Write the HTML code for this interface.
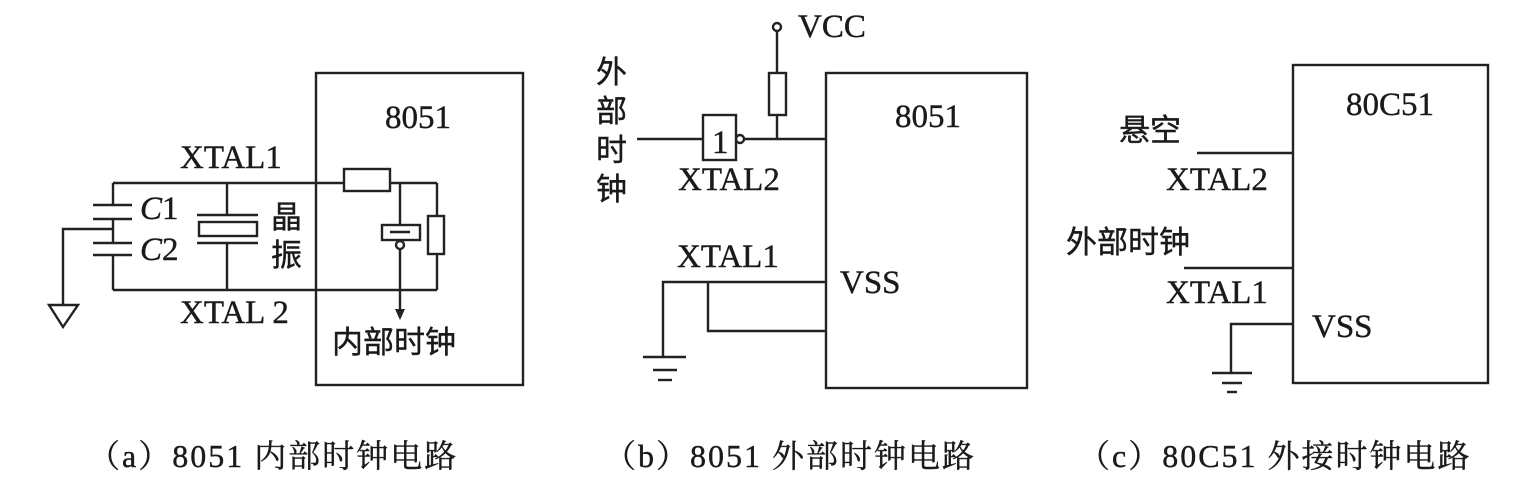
<!DOCTYPE html>
<html><head><meta charset="utf-8"><style>
html,body{margin:0;padding:0;background:#fff;}
svg{display:block}
text{fill:#1a1a1a;stroke:#1a1a1a;stroke-width:0.4}
.s{font-family:"Liberation Serif","Noto Serif CJK SC",serif;font-size:33px}
.c{font-family:"Liberation Sans","Noto Sans CJK SC",sans-serif;font-size:31px}
.cap{font-family:"Liberation Serif","Noto Serif CJK SC",serif;font-size:32px}
</style></head><body>
<svg width="1536" height="491" viewBox="0 0 1536 491" xmlns="http://www.w3.org/2000/svg">
<g stroke="#222" stroke-width="2.4" fill="none">
<rect x="316" y="73" width="207" height="312"/>
<line x1="113" y1="183" x2="344" y2="183"/>
<rect x="344" y="169" width="46" height="22"/>
<line x1="390" y1="183" x2="437" y2="183"/>
<line x1="113" y1="290" x2="437" y2="290"/>
<line x1="113" y1="183" x2="113" y2="205"/>
<line x1="93" y1="205" x2="132" y2="205"/>
<line x1="93" y1="219" x2="132" y2="219"/>
<line x1="113" y1="219" x2="113" y2="243"/>
<line x1="93" y1="243" x2="132" y2="243"/>
<line x1="93" y1="255" x2="132" y2="255"/>
<line x1="113" y1="255" x2="113" y2="290"/>
<polyline points="113,229 63,229 63,305"/>
<polygon points="49,305 78,305 63,327"/>
<line x1="227" y1="183" x2="227" y2="215"/>
<line x1="197" y1="215" x2="258" y2="215"/>
<rect x="199" y="222" width="58" height="14"/>
<line x1="197" y1="243" x2="258" y2="243"/>
<line x1="227" y1="243" x2="227" y2="290"/>
<line x1="400" y1="183" x2="400" y2="225"/>
<rect x="382" y="225" width="38" height="15"/>
<line x1="390" y1="232" x2="410" y2="232"/>
<circle cx="400" cy="245" r="4"/>
<line x1="400" y1="249" x2="400" y2="312"/>
<line x1="437" y1="183" x2="437" y2="216"/>
<rect x="428" y="216" width="16" height="38"/>
<line x1="437" y1="254" x2="437" y2="290"/>
<rect x="826" y="73" width="201" height="315"/>
<circle cx="777" cy="27" r="4"/>
<line x1="777" y1="31" x2="777" y2="73"/>
<rect x="769" y="73" width="17" height="42"/>
<line x1="777" y1="115" x2="777" y2="139"/>
<line x1="637" y1="139" x2="703" y2="139"/>
<rect x="703" y="115" width="33" height="45"/>
<circle cx="740" cy="139" r="4"/>
<line x1="744" y1="139" x2="826" y2="139"/>
<polyline points="826,282 663,282 663,357"/>
<polyline points="708,282 708,331 826,331"/>
<line x1="643" y1="357" x2="686" y2="357"/>
<line x1="653" y1="370" x2="677" y2="370"/>
<line x1="658" y1="380" x2="672" y2="380"/>
<rect x="1293" y="65" width="195" height="318"/>
<line x1="1197" y1="153" x2="1293" y2="153"/>
<line x1="1184" y1="268" x2="1293" y2="268"/>
<polyline points="1293,324 1231,324 1231,373"/>
<line x1="1212" y1="373" x2="1252" y2="373"/>
<line x1="1222" y1="383" x2="1242" y2="383"/>
<line x1="1227" y1="392" x2="1237" y2="392"/>
</g>
<polygon points="395,309 405,309 400,320" fill="#222"/>
<text class="s" x="418" y="128" text-anchor="middle">8051</text>
<text class="s" x="180" y="168">XTAL1</text>
<text class="s" x="180" y="323">XTAL 2</text>
<text class="s" x="140" y="219" font-style="italic">C<tspan font-style="normal">1</tspan></text>
<text class="s" x="140" y="260" font-style="italic">C<tspan font-style="normal">2</tspan></text>
<text class="c" x="271" y="228">晶</text>
<text class="c" x="271" y="266">振</text>
<text class="c" x="332" y="353" font-size="35">内部时钟</text>
<text class="s" x="928" y="127" text-anchor="middle">8051</text>
<text class="s" x="798" y="37">VCC</text>
<text class="s" x="712" y="153" font-size="28">1</text>
<text class="c" x="596" y="83" font-size="33">外</text>
<text class="c" x="596" y="122" font-size="33">部</text>
<text class="c" x="596" y="161" font-size="33">时</text>
<text class="c" x="596" y="200" font-size="33">钟</text>
<text class="s" x="678" y="190">XTAL2</text>
<text class="s" x="677" y="267">XTAL1</text>
<text class="s" x="840" y="293">VSS</text>
<text class="s" x="1390" y="115" text-anchor="middle">80C51</text>
<text class="c" x="1119" y="141" font-size="33">悬空</text>
<text class="s" x="1166" y="190">XTAL2</text>
<text class="c" x="1066" y="253" font-size="34">外部时钟</text>
<text class="s" x="1166" y="303">XTAL1</text>
<text class="s" x="1312" y="337">VSS</text>
<text class="cap" x="88" y="467" letter-spacing="2">（a）8051 内部时钟电路</text>
<text class="cap" x="604" y="467" letter-spacing="2">（b）8051 外部时钟电路</text>
<text class="cap" x="1078" y="467" letter-spacing="2">（c）80C51 外接时钟电路</text>
</svg>
</body></html>
